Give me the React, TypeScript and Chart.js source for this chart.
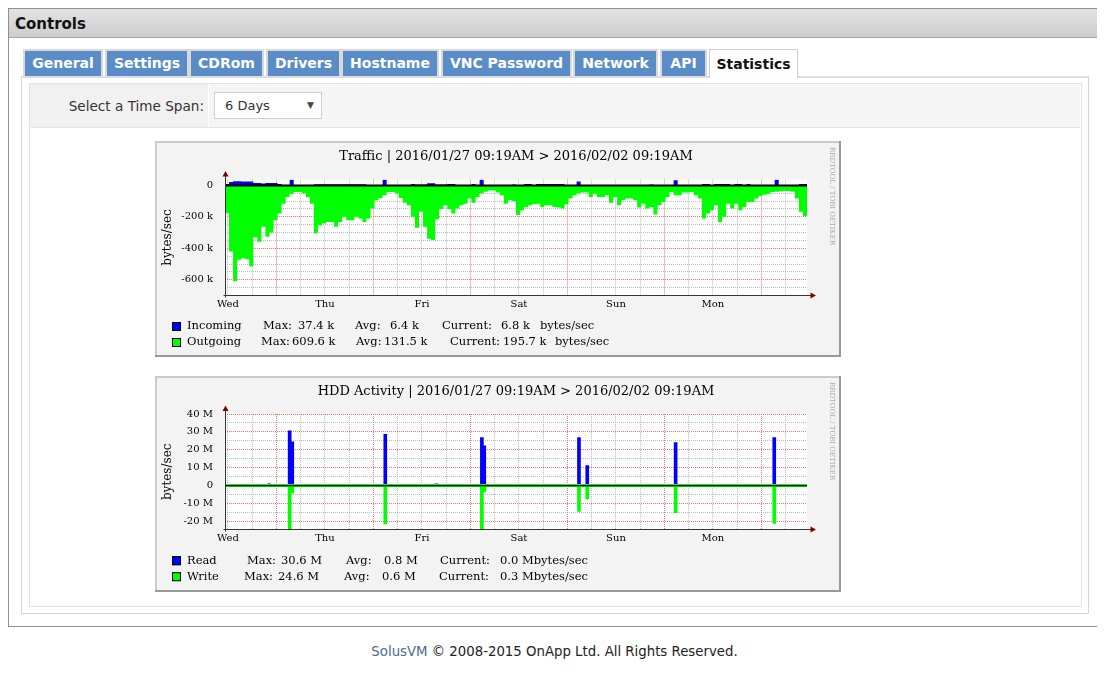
import React, { useEffect, useRef } from "react";
import { Chart, registerables } from "chart.js";

Chart.register(...registerables);

// ---------------- data ----------------
const HOURS = 144; // 6 days, hours since 2016/01/27 09:19AM
const dayLabels = ["Wed", "Thu", "Fri", "Sat", "Sun", "Mon"];
const firstMidnightHour = 12.73;

// Traffic, hourly values in kbytes/sec
const incomingK = [
  8, 21, 27, 27, 25, 25, 25, 15, 15, 12,
  15, 15, 15, 8, 2, 2, 37.4, 2, 1, 1,
  1, 2, 7, 7, 7, 7, 7, 7, 7, 7,
  7, 7, 7, 7, 7, 3, 3, 3, 3, 37,
  1, 1, 1, 1, 1, 1, 8, 6, 6, 6,
  14, 14, 6, 6, 6, 8, 8, 0, 0, 0,
  0, 8, 0, 37, 2, 1, 1, 1, 1, 1,
  1, 6, 2, 2, 8, 8, 3, 8, 8, 8,
  8, 8, 8, 8, 0, 0, 0, 25, 0, 0,
  0, 0, 0, 0, 0, 0, 0, 0, 0, 0,
  0, 0, 0, 0, 0, 6, 0, 0, 0, 0,
  0, 33, 0, 0, 0, 0, 0, 0, 8, 8,
  0, 9, 9, 9, 9, 0, 8, 8, 0, 8,
  0, 0, 0, 0, 0, 0, 37, 0, 0, 0,
  0, 0, 8, 8,
];
const outgoingK = [
  175, 421, 610, 473, 463, 470, 515, 330, 358, 263,
  326, 300, 221, 179, 116, 74, 53, 42, 42, 50,
  74, 116, 305, 253, 242, 232, 232, 263, 232, 200,
  221, 221, 200, 210, 232, 210, 147, 95, 80, 63,
  42, 42, 50, 80, 110, 126, 200, 270, 168, 263,
  340, 347, 215, 150, 126, 150, 179, 147, 126, 116,
  84, 110, 74, 50, 40, 32, 32, 45, 63, 116,
  95, 100, 189, 158, 137, 126, 120, 116, 137, 126,
  126, 137, 140, 147, 120, 84, 63, 50, 46, 46,
  74, 53, 74, 74, 63, 110, 74, 126, 95, 84,
  84, 95, 140, 116, 147, 137, 185, 126, 105, 74,
  42, 63, 63, 46, 46, 42, 63, 84, 210, 179,
  158, 126, 232, 200, 116, 147, 116, 158, 137, 105,
  105, 84, 67, 60, 53, 42, 40, 38, 36, 36,
  40, 84, 168, 196,
];
const trafficYTicks = [-650, -600, -550, -500, -450, -400, -350, -300, -250, -200, -150, -100, -50, 0];

// HDD activity bursts, Mbytes/sec
const readHours = [10.9, 16.0, 16.65, 39.66, 52.3, 63.56, 64.15, 87.58, 89.63, 111.5, 135.9];
const readM = [1.0, 30.6, 24.5, 28.7, 1.0, 26.8, 22.2, 26.8, 11.2, 24.0, 26.8];
const writeHours = [16.0, 16.65, 39.66, 63.56, 64.15, 87.58, 89.63, 111.5, 135.9];
const writeM = [24.6, 4.2, 21.4, 24.6, 3.4, 14.5, 7.4, 15.1, 21.2];
const writeIdleM = 0;
const hddYTicks = [-20, -15, -10, -5, 0, 5, 10, 15, 20, 25, 30, 35, 40];

// legends
const trafficNames = ["Incoming", "Outgoing"];
const trafficMax = ["37.4 k", "609.6 k"];
const trafficAvg = ["6.4 k", "131.5 k"];
const trafficCur = ["6.8 k", "195.7 k"];
const hddNames = ["Read", "Write"];
const hddMax = ["30.6 M", "24.6 M"];
const hddAvg = ["0.8 M", "0.6 M"];
const hddCur = ["0.0 Mbytes/sec", "0.3 Mbytes/sec"];

const trafficTitle = "Traffic | 2016/01/27 09:19AM > 2016/02/02 09:19AM";
const hddTitle = "HDD Activity | 2016/01/27 09:19AM > 2016/02/02 09:19AM";

const tabs = [
  { label: "General", x: 25, w: 76 },
  { label: "Settings", x: 107, w: 80 },
  { label: "CDRom", x: 191, w: 71 },
  { label: "Drivers", x: 268, w: 71 },
  { label: "Hostname", x: 343, w: 94 },
  { label: "VNC Password", x: 443, w: 127 },
  { label: "Network", x: 575, w: 81 },
  { label: "API", x: 662, w: 43 },
];

// ---------------- chart helpers ----------------
const SERIF = '"DejaVu Serif", serif';
const BLUE = "#0000ff";
const GREEN = "#00ff00";
const MAJOR = "rgba(245,90,90,0.85)";
const MINOR = "rgba(165,165,165,0.75)";

const xTickHours: number[] = [];
for (let k = 0; k < 24; k++) xTickHours.push(firstMidnightHour - 12 + 6 * k);

const stepPoints = (vals: number[], sign: number) => {
  const pts = vals.map((v, i) => ({ x: i, y: sign * v }));
  pts.push({ x: vals.length, y: sign * vals[vals.length - 1] });
  return pts;
};

const rrdPlugin = {
  id: "rrdFrame",
  beforeDraw(chart: any) {
    const { ctx, chartArea: a, width, height } = chart;
    ctx.save();
    ctx.fillStyle = "#f3f3f3";
    ctx.fillRect(0, 0, width, height);
    ctx.fillStyle = "#cbcbcb";
    ctx.fillRect(0, 0, width, 2);
    ctx.fillRect(0, 0, 2, height);
    ctx.fillStyle = "#999999";
    ctx.fillRect(0, height - 2, width, 2);
    ctx.fillRect(width - 2, 0, 2, height);
    ctx.fillStyle = "#ffffff";
    ctx.fillRect(a.left, a.top, a.right - a.left, a.bottom - a.top);
    ctx.restore();
  },
  afterDatasetsDraw(chart: any) {
    const { ctx, chartArea: a } = chart;
    const x = Math.floor(a.left) + 0.5;
    const y = Math.floor(a.bottom) + 0.5;
    ctx.save();
    ctx.strokeStyle = "#2c3a36";
    ctx.lineWidth = 1;
    ctx.beginPath();
    ctx.moveTo(x, y + 2);
    ctx.lineTo(x, a.top - 4);
    ctx.moveTo(x - 2, y);
    ctx.lineTo(a.right + 4, y);
    ctx.stroke();
    ctx.fillStyle = "#7f0000";
    ctx.beginPath();
    ctx.moveTo(x, a.top - 8.5);
    ctx.lineTo(x - 3, a.top - 3);
    ctx.lineTo(x + 3, a.top - 3);
    ctx.closePath();
    ctx.fill();
    ctx.beginPath();
    ctx.moveTo(a.right + 9, y);
    ctx.lineTo(a.right + 3.5, y - 3);
    ctx.lineTo(a.right + 3.5, y + 3);
    ctx.closePath();
    ctx.fill();
    ctx.restore();
  },
  afterDraw(chart: any, _args: any, opts: any) {
    const { ctx } = chart;
    ctx.save();
    ctx.fillStyle = "#000";
    ctx.textBaseline = "middle";
    ctx.textAlign = "center";
    ctx.font = `13px ${SERIF}`;
    ctx.fillText(opts.title, 361, 16);
    ctx.textAlign = "left";
    ctx.font = `11.5px ${SERIF}`;
    opts.legend.forEach((row: any) => {
      ctx.fillStyle = row.color;
      ctx.fillRect(17, row.y - 4.5, 9, 9);
      ctx.strokeStyle = "#000";
      ctx.lineWidth = 1;
      ctx.strokeRect(17.5, row.y - 4, 8, 8);
      ctx.fillStyle = "#000";
      row.pieces.forEach((p: any) => ctx.fillText(p.text, p.x, row.y));
    });
    ctx.translate(677, 6);
    ctx.rotate(Math.PI / 2);
    ctx.font = `7px ${SERIF}`;
    ctx.fillStyle = "#aaaaaa";
    ctx.fillText("RRDTOOL / TOBI OETIKER", 0, 0);
    ctx.restore();
  },
};

function xScale(bottomSpace: number) {
  return {
    type: "linear",
    min: 0,
    max: HOURS,
    bounds: "data",
    offset: false,
    grid: {
      offset: false,
      drawTicks: false,
      lineWidth: 1,
      color: (c: any) => (c.index % 4 === 2 ? MAJOR : MINOR),
    },
    border: { display: false, dash: [1, 1] },
    ticks: {
      autoSkip: false,
      maxRotation: 0,
      padding: 3,
      color: "#000",
      font: { family: SERIF, size: 10 },
      callback: (_v: any, i: number) => (i % 4 === 0 ? dayLabels[i / 4] : ""),
    },
    afterBuildTicks: (s: any) => {
      s.ticks = xTickHours.map((value) => ({ value }));
    },
    afterFit: (s: any) => {
      s.height = bottomSpace;
    },
  };
}

function yScale(min: number, max: number, ticks: number[], major: number, unit: string) {
  return {
    type: "linear",
    min,
    max,
    bounds: "data",
    grid: {
      drawTicks: false,
      lineWidth: 1,
      color: (c: any) => {
        const v = c.tick ? c.tick.value : 1;
        if (v === 0) return "rgba(0,0,0,0)";
        return v % major === 0 ? MAJOR : MINOR;
      },
    },
    border: { display: false, dash: [1, 1] },
    ticks: {
      autoSkip: false,
      padding: 12,
      color: "#000",
      font: { family: SERIF, size: 10 },
      callback: (v: number) => (v === 0 ? "0" : v % major === 0 ? `${v} ${unit}` : ""),
    },
    title: {
      display: true,
      text: "bytes/sec",
      color: "#000",
      font: { family: SERIF, size: 12 },
      padding: { top: 6, bottom: 0 },
    },
    afterBuildTicks: (s: any) => {
      s.ticks = ticks.map((value) => ({ value }));
    },
    afterFit: (s: any) => {
      s.width = 70;
    },
  };
}

const zeroLine = (width: number) => ({
  type: "line",
  data: [
    { x: 0, y: 0 },
    { x: HOURS, y: 0 },
  ],
  borderColor: "#000",
  borderWidth: width,
  pointRadius: 0,
  fill: false,
  order: 0,
});

function trafficConfig(): any {
  return {
    type: "line",
    data: {
      datasets: [
        zeroLine(2),
        {
          label: trafficNames[0],
          data: stepPoints(incomingK, 1),
          stepped: "before",
          fill: "origin",
          backgroundColor: BLUE,
          borderColor: "rgba(0,0,0,0)",
          borderWidth: 0,
          pointRadius: 0,
          order: 1,
        },
        {
          label: trafficNames[1],
          data: stepPoints(outgoingK, -1),
          stepped: "before",
          fill: "origin",
          backgroundColor: GREEN,
          borderColor: "rgba(0,0,0,0)",
          borderWidth: 0,
          pointRadius: 0,
          order: 2,
        },
      ],
    },
    options: {
      responsive: false,
      animation: false,
      events: [],
      layout: { padding: { top: 38.5, right: 34, left: 0, bottom: 0 } },
      scales: {
        x: xScale(61.5),
        y: yScale(-700, 37.4, trafficYTicks, 200, "k"),
      },
      plugins: {
        legend: { display: false },
        tooltip: { enabled: false },
        rrdFrame: {
          title: trafficTitle,
          legend: [
            {
              color: BLUE,
              y: 185.5,
              pieces: [
                { x: 32, text: trafficNames[0] },
                { x: 108, text: "Max:" },
                { x: 143, text: trafficMax[0] },
                { x: 200, text: "Avg:" },
                { x: 235, text: trafficAvg[0] },
                { x: 287, text: "Current:" },
                { x: 346, text: trafficCur[0] },
                { x: 385, text: "bytes/sec" },
              ],
            },
            {
              color: GREEN,
              y: 201.5,
              pieces: [
                { x: 32, text: trafficNames[1] },
                { x: 106, text: "Max:" },
                { x: 137, text: trafficMax[1] },
                { x: 201, text: "Avg:" },
                { x: 229, text: trafficAvg[1] },
                { x: 295, text: "Current:" },
                { x: 348, text: trafficCur[1] },
                { x: 400, text: "bytes/sec" },
              ],
            },
          ],
        },
      },
    },
    plugins: [rrdPlugin],
  };
}

function hddConfig(): any {
  return {
    type: "line",
    data: {
      datasets: [
        zeroLine(1.2),
        {
          type: "line",
          data: [
            { x: 0, y: writeIdleM },
            { x: HOURS, y: writeIdleM },
          ],
          borderColor: GREEN,
          borderWidth: 3,
          pointRadius: 0,
          fill: false,
          order: 1,
        },
        {
          type: "bar",
          label: hddNames[0],
          data: readHours.map((h, i) => ({ x: h, y: readM[i] })),
          backgroundColor: BLUE,
          barThickness: 3,
          grouped: false,
          order: 2,
        },
        {
          type: "bar",
          label: hddNames[1],
          data: writeHours.map((h, i) => ({ x: h, y: -writeM[i] })),
          backgroundColor: GREEN,
          barThickness: 3,
          grouped: false,
          order: 3,
        },
      ],
    },
    options: {
      responsive: false,
      animation: false,
      events: [],
      layout: { padding: { top: 38, right: 34, left: 0, bottom: 0 } },
      scales: {
        x: xScale(62.4),
        y: yScale(-24.6, 40, hddYTicks, 10, "M"),
      },
      plugins: {
        legend: { display: false },
        tooltip: { enabled: false },
        rrdFrame: {
          title: hddTitle,
          legend: [
            {
              color: BLUE,
              y: 184.7,
              pieces: [
                { x: 32, text: hddNames[0] },
                { x: 92, text: "Max:" },
                { x: 126, text: hddMax[0] },
                { x: 191, text: "Avg:" },
                { x: 229, text: hddAvg[0] },
                { x: 285, text: "Current:" },
                { x: 345, text: hddCur[0] },
              ],
            },
            {
              color: GREEN,
              y: 200.7,
              pieces: [
                { x: 32, text: hddNames[1] },
                { x: 89, text: "Max:" },
                { x: 123, text: hddMax[1] },
                { x: 189, text: "Avg:" },
                { x: 227, text: hddAvg[1] },
                { x: 284, text: "Current:" },
                { x: 345, text: hddCur[1] },
              ],
            },
          ],
        },
      },
    },
    plugins: [rrdPlugin],
  };
}

function RrdGraph({ build, left, top }: { build: () => any; left: number; top: number }) {
  const ref = useRef<HTMLCanvasElement | null>(null);
  useEffect(() => {
    if (!ref.current) return;
    const chart = new Chart(ref.current, build());
    return () => chart.destroy();
  }, [build]);
  return (
    <canvas
      ref={ref}
      width={686}
      height={216}
      style={{ position: "absolute", left, top, width: 686, height: 216, display: "block" }}
    />
  );
}

// page coords -> root coords (body margin 8)
const P = (v: number) => v - 8;
const SANS = '"DejaVu Sans", Verdana, sans-serif';

export default function App() {
  return (
    <div style={{ position: "relative", width: 1089, height: 652, fontFamily: SANS }}>
      {/* panel */}
      <div
        style={{
          position: "absolute",
          left: P(8),
          top: P(8),
          width: 1094,
          height: 619,
          boxSizing: "border-box",
          border: "1px solid #8e8e8e",
        }}
      />
      <div
        style={{
          position: "absolute",
          left: P(9),
          top: P(9),
          width: 1092,
          height: 29,
          boxSizing: "border-box",
          background: "linear-gradient(#e2e2e2, #cdcdcd)",
          borderBottom: "1px solid #a6a6a6",
        }}
      />
      <div
        style={{
          position: "absolute",
          left: P(15),
          top: P(15),
          height: 18,
          lineHeight: "18px",
          fontWeight: "bold",
          fontSize: 15,
          color: "#111",
        }}
      >
        Controls
      </div>

      {/* content boxes */}
      <div
        style={{
          position: "absolute",
          left: P(21),
          top: P(76),
          width: 1068,
          height: 538,
          boxSizing: "border-box",
          border: "1px solid #d6d6d6",
          borderTop: "2px solid #dcdcdc",
        }}
      />
      <div
        style={{
          position: "absolute",
          left: P(29),
          top: P(83),
          width: 1053,
          height: 524,
          boxSizing: "border-box",
          border: "1px solid #e2e2e2",
        }}
      />
      <div
        style={{
          position: "absolute",
          left: P(30),
          top: P(84),
          width: 178,
          height: 43,
          background: "#f1f1f1",
        }}
      />
      <div
        style={{
          position: "absolute",
          left: P(209),
          top: P(84),
          width: 871,
          height: 43,
          background: "#f5f5f5",
        }}
      />
      <div
        style={{
          position: "absolute",
          left: P(30),
          top: P(127),
          width: 1050,
          height: 1,
          background: "#e4e4e4",
        }}
      />
      <div
        style={{
          position: "absolute",
          left: P(30),
          top: P(98),
          width: 174,
          height: 16,
          lineHeight: "16px",
          fontSize: 13.6,
          color: "#333",
          textAlign: "right",
          whiteSpace: "nowrap",
        }}
      >
        Select a Time Span:
      </div>
      <div
        style={{
          position: "absolute",
          left: P(214),
          top: P(92),
          width: 108,
          height: 27,
          boxSizing: "border-box",
          border: "1px solid #cfcfcf",
          background: "#fff",
        }}
      >
        <span
          style={{
            position: "absolute",
            left: 10,
            top: 5,
            fontSize: 13,
            lineHeight: "16px",
            color: "#333",
          }}
        >
          6 Days
        </span>
        <span
          style={{
            position: "absolute",
            left: 92,
            top: 6,
            fontSize: 9,
            lineHeight: "12px",
            color: "#444",
          }}
        >
          ▼
        </span>
      </div>

      {/* tabs */}
      {tabs.map((t) => (
        <div
          key={t.label}
          style={{
            position: "absolute",
            left: P(t.x - 2),
            top: P(49),
            width: t.w + 4,
            height: 27,
            boxSizing: "border-box",
            border: "2px solid #d9d9d9",
            borderBottom: "none",
            background: "#5a8dc8",
            backgroundClip: "padding-box",
            color: "#fff",
            fontWeight: "bold",
            fontSize: 14,
            lineHeight: "25px",
            textAlign: "center",
            whiteSpace: "nowrap",
          }}
        >
          {t.label}
        </div>
      ))}
      <div
        style={{
          position: "absolute",
          left: P(709),
          top: P(49),
          width: 89,
          height: 29,
          boxSizing: "border-box",
          border: "1px solid #cdcdcd",
          borderBottom: "none",
          background: "#fff",
          color: "#111",
          fontWeight: "bold",
          fontSize: 14,
          lineHeight: "28px",
          textAlign: "center",
        }}
      >
        Statistics
      </div>

      {/* graphs */}
      <RrdGraph build={trafficConfig} left={P(155)} top={P(141)} />
      <RrdGraph build={hddConfig} left={P(155)} top={P(376)} />

      {/* footer */}
      <div
        style={{
          position: "absolute",
          left: 0,
          width: 1093,
          top: P(644),
          height: 16,
          lineHeight: "16px",
          fontSize: 13.3,
          textAlign: "center",
          color: "#222",
          whiteSpace: "nowrap",
        }}
      >
        <span style={{ color: "#4d6b8a" }}>SolusVM</span> © 2008-2015 OnApp Ltd. All Rights Reserved.
      </div>
    </div>
  );
}
